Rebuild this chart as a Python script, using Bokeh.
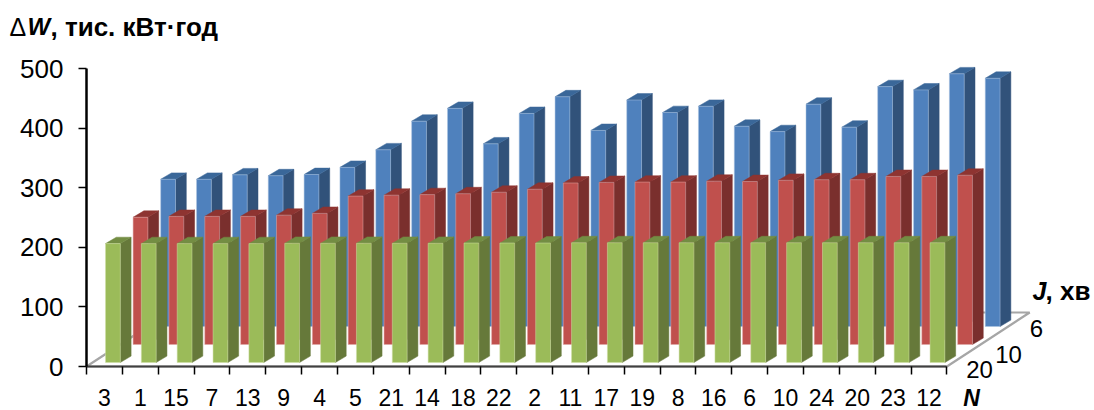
from bokeh.embed import file_html
from bokeh.models import ColumnDataSource, FixedTicker, Label, LinearAxis, Range1d
from bokeh.plotting import figure
from bokeh.resources import INLINE

# Connection numbers along the front axis
nodes = [3, 1, 15, 7, 13, 9, 4, 5, 21, 14, 18, 22, 2, 11, 17, 19, 8, 16, 6, 10, 24, 20, 23, 12]

# Energy losses, thousand kWh, for each interval J
loss_j6 = [247, 247, 254.5, 253, 255, 267, 296.5, 344.5, 366, 306.5, 357.5, 385.5,
           329, 380, 359, 369.5, 336, 327, 373, 334.5, 402.5, 397, 424, 416.5]
loss_j10 = [213.5, 215, 215, 215, 217, 220, 249, 250.5, 251.5, 253, 255.5, 260.5,
            271, 272, 272.5, 272.5, 274, 273.5, 275.5, 276.5, 276.5, 282, 282, 284]
loss_j20 = [199.5, 199.5, 199.5, 199.5, 199.5, 200, 200, 200, 200, 200, 200.5, 200.5,
            200.5, 201, 201, 201, 201, 201, 201, 201, 201, 201, 201, 201]
depth_labels = ["20", "10", "6"]

# Scale of the oblique drawing
PX_X = 35.85
PX_Y = 0.596
LEFT = 86


def ux(px):
    return (px - LEFT) / PX_X


def uy(py):
    return (366 - py) / PX_Y


BAR_LEFT = ux(105)
BAR_W = 14.8 / PX_X
SIDE_X, SIDE_Y = 10.8 / PX_X, 6.4 / PX_Y
ROW_X, ROW_Y = 27.6 / PX_X, 18 / PX_Y
BASE_Y = 4 / PX_Y

# The frame fills the page; both axes are pinned at the origin inside it
p = figure(width=1094, height=410, output_backend="svg", toolbar_location=None,
           x_range=Range1d(ux(0), ux(1094)), y_range=Range1d(uy(410), uy(0)),
           min_border_left=0, min_border_right=0, min_border_top=0, min_border_bottom=0,
           x_axis_type=None, y_axis_type=None, outline_line_color=None, background_fill_color="white")
p.grid.visible = False

# Floor of the chart
floor_x = [0, 24, 24 + 3 * ROW_X, 3 * ROW_X, 0]
floor_y = [0, 0, 3 * ROW_Y, 3 * ROW_Y, 0]
p.line(floor_x, floor_y, line_color="#a6a6a6", line_width=2.2)


def draw_row(values, row, face, side, top, edge):
    x0 = [BAR_LEFT + i + row * ROW_X for i in range(len(values))]
    y0 = BASE_Y + row * ROW_Y
    faces_x = [[x, x + BAR_W, x + BAR_W, x] for x in x0]
    faces_y = [[y0, y0, y0 + v, y0 + v] for v in values]
    sides_x = [[x + BAR_W, x + BAR_W + SIDE_X, x + BAR_W + SIDE_X, x + BAR_W] for x in x0]
    sides_y = [[y0, y0 + SIDE_Y, y0 + v + SIDE_Y, y0 + v] for v in values]
    tops_x = [[x, x + BAR_W, x + BAR_W + SIDE_X, x + SIDE_X] for x in x0]
    tops_y = [[y0 + v, y0 + v, y0 + v + SIDE_Y, y0 + v + SIDE_Y] for v in values]
    p.patches("x", "y", source=ColumnDataSource(dict(x=sides_x, y=sides_y)), fill_color=side,
              line_color=side, line_width=0.5)
    p.patches("x", "y", source=ColumnDataSource(dict(x=tops_x, y=tops_y)), fill_color=top,
              line_color=top, line_width=0.5)
    p.patches("x", "y", source=ColumnDataSource(dict(x=faces_x, y=faces_y)), fill_color=face,
              line_color=edge, line_alpha=0.5, line_width=1)


draw_row(loss_j6, 2, "#4F81BD", "#31527A", "#3A6799", "#a9c3e2")
draw_row(loss_j10, 1, "#C0504D", "#7A2F2D", "#8E3431", "#dfa9a7")
draw_row(loss_j20, 0, "#9BBB59", "#66793A", "#738D43", "#cfe0a6")

# Value axis
y_axis = LinearAxis(ticker=FixedTicker(ticks=[0, 100, 200, 300, 400, 500]), bounds=(0, 500), fixed_location=0)
y_axis.axis_line_color = "black"
y_axis.axis_line_width = 2.5
y_axis.major_tick_line_color = "black"
y_axis.major_tick_line_width = 1.5
y_axis.major_tick_in = 0
y_axis.major_tick_out = 8
y_axis.minor_tick_line_color = None
y_axis.major_label_standoff = 15
y_axis.major_label_text_font = "Liberation Sans"
y_axis.major_label_text_font_size = "26px"
y_axis.major_label_text_color = "black"
p.add_layout(y_axis, "left")

# Category axis: labels sit between the boundary ticks
centers = [i + 0.5 for i in range(len(nodes))]
boundaries = list(range(len(nodes) + 1))
x_axis = LinearAxis(ticker=FixedTicker(ticks=centers, minor_ticks=boundaries), bounds=(0, len(nodes)), fixed_location=0)
x_axis.major_label_overrides = {c: str(n) for c, n in zip(centers, nodes)}
x_axis.axis_line_color = "#404040"
x_axis.axis_line_width = 2
x_axis.major_tick_line_color = None
x_axis.major_tick_in = 0
x_axis.major_tick_out = 0
x_axis.minor_tick_line_color = "black"
x_axis.minor_tick_line_width = 1.5
x_axis.minor_tick_in = 0
x_axis.minor_tick_out = 8
x_axis.major_label_standoff = 14
x_axis.major_label_text_font = "Liberation Sans"
x_axis.major_label_text_font_size = "23px"
x_axis.major_label_text_color = "black"
x_axis.major_label_orientation = "horizontal"
p.add_layout(x_axis, "below")


def note(text, px, py, size, style="normal", align="left"):
    p.add_layout(Label(x=ux(px), y=uy(py), text=text, text_font="Liberation Sans",
                       text_font_size=f"{size}px", text_font_style=style, text_color="black",
                       text_align=align, text_baseline="middle"))


# Depth axis labels, one per row of bars
for text, px, py in zip(depth_labels, [979, 1008, 1036], [369, 354, 328]):
    note(text, px, py, 24, align="center")

note("Δ", 9, 26, 25)
note("W", 27, 26, 24, "bold italic")
note(", тис. кВт·год", 50, 26, 26, "bold")
note("J", 1032, 290, 25, "bold italic")
note(", хв", 1045, 290, 26, "bold")
note("N", 971, 397, 23, "bold italic", align="center")

open("out.html", "w").write(file_html(p, INLINE))
